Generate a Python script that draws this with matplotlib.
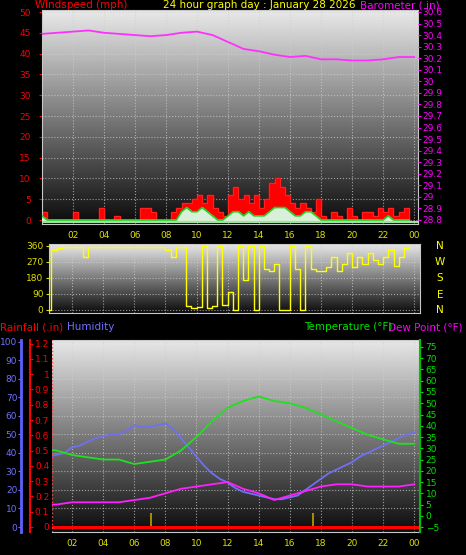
import numpy as np
import matplotlib
matplotlib.use("Agg")
import matplotlib.pyplot as plt

# ---- data ----
t20 = np.arange(72) / 3.0
gust = [2,0,0,0,0,0,2,0,0, 0,0,3,0,0,1,0,0,0, 0,3,3,2,0,0,0,2,3,
        4,4,5,6,4,6,3,2,1, 6,8,5,6,4,6,3,5,9, 10,8,6,4,3,4,3,2,5,
        1,0,2,1,0,3,1,0,2, 2,1,3,2,3,1,2,3,0]
avgwind = [1]+[0]*26 + [2,3,2,2,3,2,1,0,0, 1,2,2,1,2,1,1,1,2,
           3,3,3,2,1,1,2,2,1, 0,0,0,0,0,0,0,0,0, 0,0,0,0,1,0,0,0,0]
th = np.arange(25)
baro = [30.41,30.42,30.43,30.44,30.42,30.41,30.40,30.39,30.40,30.42,30.43,30.40,
        30.34,30.28,30.26,30.23,30.21,30.22,30.19,30.19,30.18,30.18,30.19,30.21,30.21]
wdir = [0,0,340,350,355,355,355,355,300, 355,355,355,355,355,355,355,355,355,
        355,355,355,355,355,355,340,300,355, 355,20,10,15,360,10,20,360,30,
        100,0,360,170,360,0,360,230,220, 260,0,0,360,230,0,360,230,220,
        220,240,300,220,260,320,240,300,260, 320,280,260,300,340,250,300,350,355]
t30 = np.arange(49) / 2.0
humidity = [37,38,39,40,43,44,46,48,49,50,50,52,55,54,54,55,56,53,48,43,38,33,29,26,
            24,21,19,18,17,16,15,15,16,17,20,23,26,29,31,33,35,38,40,42,44,46,48,50,51]
temp = [30,29,27,26,25,25,23,24,25,29,35,42,48,51,53,51,50,48,45,42,39,36,34,32,32]
dew = [5,5,6,6,6,6,7,8,10,12,13,14,15,12,10,7,9,11,13,14,14,13,13,13,14]
strikes = [7.1, 17.5]
xticks = [2,4,6,8,10,12,14,16,18,20,22,24]
xlabels = ["02","04","06","08","10","12","14","16","18","20","22","00"]

W, H = 466, 555
fig = plt.figure(figsize=(W/100, H/100), dpi=100, facecolor="black")

def axpx(x0, y0, x1, y1):
    return fig.add_axes([x0/W, 1-y1/H, (x1-x0)/W, (y1-y0)/H])

grad = np.linspace(0, 1, 256).reshape(-1, 1)
def bg(ax):
    ax.imshow(grad, extent=[0,1,0,1], transform=ax.transAxes, cmap="gray",
              vmin=-0.05, vmax=1.1, aspect="auto", zorder=0, origin="lower")
    for s in ax.spines.values():
        s.set_color("#c8c8c8")
    ax.grid(True, color="#d0d0d0", linestyle=":", linewidth=0.8, alpha=0.7)
    ax.set_facecolor("black")

fs = 6.5
tfs = 7.5
# ---- top panel ----
ax1 = axpx(42, 10, 418, 224)
bg(ax1)
ax1.set_xlim(0, 24.25)
ax1.set_ylim(-0.96, 50.5)
ax1.fill_between(t20, gust, step="post", color="#ff0000", zorder=2)
ax1.step(t20, gust, where="post", color="#ff2020", lw=0.8, zorder=2)
ax1.fill_between(t20, avgwind, color="#d8f0d8", zorder=3)
ax1.plot(t20, avgwind, color="#20d020", lw=1.2, zorder=4)
ax1.axhline(-0.4, color="#a0e0a0", lw=1.5, zorder=4)
ax1.set_yticks(range(0, 51, 5))
ax1.tick_params(axis="y", colors="#ff0000", labelsize=fs, length=2, pad=6)
ax1.set_xticks(xticks)
ax1.set_xticklabels(xlabels)
ax1.tick_params(axis="x", colors="#e0e000", labelsize=fs, length=0, pad=5)
ax1b = ax1.twinx()
ax1b.set_ylim(28.765, 30.617)
ax1b.plot(th, baro, color="#ff30ff", lw=1.3)
bt = np.round(np.arange(28.8, 30.61, 0.1), 1)
ax1b.set_yticks(bt)
ax1b.set_yticklabels([("%g" % v) for v in bt])
ax1b.tick_params(axis="y", colors="#ff00ff", labelsize=fs, length=2, pad=1)
for s in ax1b.spines.values():
    s.set_visible(False)
fig.text(35/W, 1-5/H, "Windspeed (mph)", color="#ff0000", fontsize=tfs, va="center")
fig.text(259/W, 1-5/H, "24 hour graph day : January 28 2026", color="#ffff00", fontsize=tfs, va="center", ha="center")
fig.text(440/W, 1-5/H, "Barometer (.in)", color="#ff00ff", fontsize=tfs, va="center", ha="right")

# ---- middle panel ----
ax2 = axpx(49, 244, 420, 313)
bg(ax2)
ax2.set_xlim(0.51, 24.37)
ax2.set_ylim(-17, 371)
ax2.step(t20, wdir, where="post", color="#ffff00", lw=1.0, zorder=3)
ax2.set_yticks([0, 90, 180, 270, 360])
ax2.tick_params(axis="y", colors="#e0e000", labelsize=fs, length=2, pad=2)
ax2.set_xticks(xticks)
ax2.tick_params(axis="x", length=0, labelbottom=False)
for lab, yy in zip(["N", "W", "S", "E", "N"], [246, 262, 278, 295, 310]):
    fig.text(440/W, 1-yy/H, lab, color="#ffff00", fontsize=tfs, ha="center", va="center")

fig.text(0/W, 1-327/H, "Rainfall (.in)", color="#ff0000", fontsize=tfs, va="center")
fig.text(67/W, 1-327/H, "Humidity", color="#7070ff", fontsize=tfs, va="center")
fig.text(392/W, 1-327/H, "Temperature (°F)", color="#00e000", fontsize=tfs, va="center", ha="right")
fig.text(463/W, 1-327/H, "Dew Point (°F)", color="#ff00ff", fontsize=tfs, va="center", ha="right")

# ---- bottom panel ----
ax3 = axpx(52, 340, 420, 532)
bg(ax3)
ax3.set_xlim(0.71, 24.37)
ax3.set_ylim(-2.7, 101)
ax3.plot(t30, humidity, color="#7070f0", lw=1.3, zorder=3)
ax3.set_yticks(range(0, 101, 10))
ax3.spines["left"].set_position(("outward", 22))
ax3.spines["left"].set_color("#6060ff")
ax3.spines["left"].set_linewidth(2)
ax3.tick_params(axis="y", colors="#7070ff", labelsize=fs, length=2, pad=1)
ax3.set_xticks(xticks)
ax3.set_xticklabels(xlabels)
ax3.tick_params(axis="x", colors="#e0e000", labelsize=fs, length=0, pad=5)

ax3r = ax3.twinx()
ax3r.set_ylim(-0.033, 1.224)
ax3r.yaxis.tick_left()
ax3r.spines["left"].set_position(("outward", 16))
ax3r.spines["left"].set_color("#ff0000")
ax3r.spines["left"].set_linewidth(1.5)
for k in ("right", "top", "bottom"):
    ax3r.spines[k].set_visible(False)
rt = np.round(np.arange(0, 1.21, 0.1), 1)
ax3r.set_yticks(rt)
ax3r.set_yticklabels([("%g" % v) for v in rt])
ax3r.tick_params(axis="y", colors="#ff0000", labelsize=fs, length=2, direction="in", pad=-14)
for lab in ax3r.get_yticklabels():
    lab.set_horizontalalignment("right")
ax3r.axhline(0, color="#ff0000", lw=2.2, zorder=5)
ax3r.axvline(0.71, color="#ff4040", lw=1, ls=":", zorder=5)
ax3r.vlines(strikes, 0, 0.09, color="#c0a000", lw=1.2, zorder=4)

ax3t = ax3.twinx()
ax3t.set_ylim(-7.2, 78.1)
ax3t.plot(th, temp, color="#20e020", lw=1.3, zorder=3)
ax3t.plot(th, dew, color="#ff20ff", lw=1.3, zorder=3)
ax3t.set_yticks(range(-5, 76, 5))
ax3t.tick_params(axis="y", colors="#00e000", labelsize=fs, length=2, pad=2)
for s in ("left", "top", "bottom"):
    ax3t.spines[s].set_visible(False)
ax3t.spines["right"].set_color("#00c000")
ax3t.spines["right"].set_linewidth(1.5)

fig.savefig("out.png", dpi=100, facecolor="black")
